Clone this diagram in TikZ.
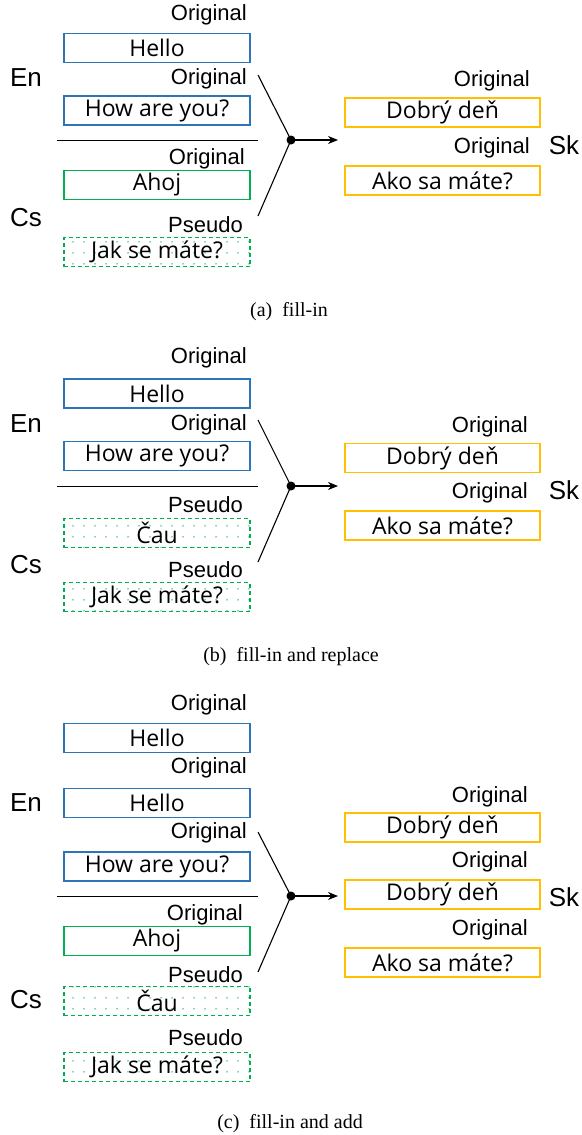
\documentclass[tikz,border=0pt]{standalone}
\usepackage{fontspec}
\setmainfont{Liberation Serif}
\newfontfamily\labfont{Liberation Sans}
\newfontfamily\sentfont{Open Sans}
\usetikzlibrary{arrows.meta,patterns.meta}

\definecolor{enblue}{RGB}{46,117,182}
\definecolor{csgreen}{RGB}{0,176,80}
\definecolor{skyellow}{RGB}{255,192,0}

\begin{document}
\begin{tikzpicture}[x=1pt,y=-1pt,>={Stealth[length=10pt,width=8pt]},
  tag/.style={font=\labfont\fontsize{22}{24}\selectfont,anchor=east,inner sep=0pt},
  lang/.style={font=\labfont\fontsize{26}{28}\selectfont,inner sep=0pt},
  sent/.style={minimum width=186,minimum height=29,inner sep=0pt,line width=1.4pt,
    font=\sentfont\fontsize{23}{25}\selectfont},
  enbox/.style={sent,draw=enblue},
  csbox/.style={sent,draw=csgreen},
  pseudobox/.style={sent,draw=csgreen,dash pattern=on 4pt off 3pt,
    pattern={Dots[distance=10.5pt,radius=0.8pt]},pattern color=csgreen},
  skbox/.style={sent,minimum width=195,draw=skyellow},
  fork/.style={line width=1.1pt},
  subcap/.style={font=\fontsize{20}{22}\selectfont}]
  \useasboundingbox (0,0) rectangle (581,1135);

  % (a) fill-in
  \node[tag] at (247,15) {Original};
  \node[enbox] (ahello) at (157,48) {Hello};
  \node[tag] at (247,79) {Original};
  \node[enbox] (ahow) at (157,110.5) {How are you?};
  \node[tag] at (245,159) {Original};
  \node[csbox] (aahoj) at (157,185) {Ahoj};
  \node[tag] at (243,225) {Pseudo};
  \node[pseudobox] (ajak) at (157,252) {Jak se máte?};
  \node[lang] (aen) at (26,78) {En};
  \node[lang] (acs) at (26,218) {Cs};
  \draw[line width=0.9pt] (57,140) -- (258,140);
  \coordinate (aup) at (258,75);
  \coordinate (alow) at (258,216);
  \coordinate (ajoin) at (291,140);
  \coordinate (aend) at (338,140);
  \draw[fork] (aup) -- (ajoin) -- (alow);
  \draw[fork,->] (ajoin) -- (aend);
  \fill (ajoin) circle (4.5);
  \node[tag] at (530,81) {Original};
  \node[skbox] (adobry) at (442.5,112.5) {Dobrý deň};
  \node[tag] at (530,148) {Original};
  \node[skbox] (aako) at (442.5,180.5) {Ako sa máte?};
  \node[lang] (ask) at (564,145) {Sk};
  \node[subcap] (acap) at (289,312) {(a)\ \ fill-in};

  % (b) fill-in and replace
  \node[tag] at (247,358) {Original};
  \node[enbox] (bhello) at (157,393.5) {Hello};
  \node[tag] at (247,425) {Original};
  \node[enbox] (bhow) at (157,456) {How are you?};
  \node[tag] at (243,505) {Pseudo};
  \node[pseudobox] (bcau) at (157,533) {Čau};
  \node[tag] at (243,570) {Pseudo};
  \node[pseudobox] (bjak) at (157,597) {Jak se máte?};
  \node[lang] (ben) at (26,424) {En};
  \node[lang] (bcs) at (26,565) {Cs};
  \draw[line width=0.9pt] (57,486) -- (258,486);
  \coordinate (bup) at (258,420);
  \coordinate (blow) at (258,562);
  \coordinate (bjoin) at (291,486);
  \coordinate (bend) at (338,486);
  \draw[fork] (bup) -- (bjoin) -- (blow);
  \draw[fork,->] (bjoin) -- (bend);
  \fill (bjoin) circle (4.5);
  \node[tag] at (528,427) {Original};
  \node[skbox] (bdobry) at (442.5,458) {Dobrý deň};
  \node[tag] at (528,493) {Original};
  \node[skbox] (bako) at (442.5,525.5) {Ako sa máte?};
  \node[lang] (bsk) at (564,490) {Sk};
  \node[subcap] (bcap) at (291,657) {(b)\ \ fill-in and replace};

  % (c) fill-in and add
  \node[tag] at (247,705) {Original};
  \node[enbox] (chello) at (157,738) {Hello};
  \node[tag] at (247,768) {Original};
  \node[enbox] (chellob) at (157,803) {Hello};
  \node[tag] at (247,833) {Original};
  \node[enbox] (chow) at (157,866.5) {How are you?};
  \node[tag] at (243,915) {Original};
  \node[csbox] (cahoj) at (157,941) {Ahoj};
  \node[tag] at (243,975) {Pseudo};
  \node[pseudobox] (ccau) at (157,1001) {Čau};
  \node[tag] at (243,1038) {Pseudo};
  \node[pseudobox] (cjak) at (157,1067) {Jak se máte?};
  \node[lang] (cen) at (26,803) {En};
  \node[lang] (ccs) at (26,1000) {Cs};
  \draw[line width=0.9pt] (57,896) -- (258,896);
  \coordinate (cup) at (258,832);
  \coordinate (clow) at (258,972);
  \coordinate (cjoin) at (291,896);
  \coordinate (cend) at (338,896);
  \draw[fork] (cup) -- (cjoin) -- (clow);
  \draw[fork,->] (cjoin) -- (cend);
  \fill (cjoin) circle (4.5);
  \node[tag] at (528,797) {Original};
  \node[skbox] (cdobry) at (442.5,827.5) {Dobrý deň};
  \node[tag] at (528,862) {Original};
  \node[skbox] (cdobryb) at (442.5,894.5) {Dobrý deň};
  \node[tag] at (528,930) {Original};
  \node[skbox] (cako) at (442.5,962.5) {Ako sa máte?};
  \node[lang] (csk) at (564,897) {Sk};
  \node[subcap] (ccap) at (290,1124) {(c)\ \ fill-in and add};
\end{tikzpicture}
\end{document}
